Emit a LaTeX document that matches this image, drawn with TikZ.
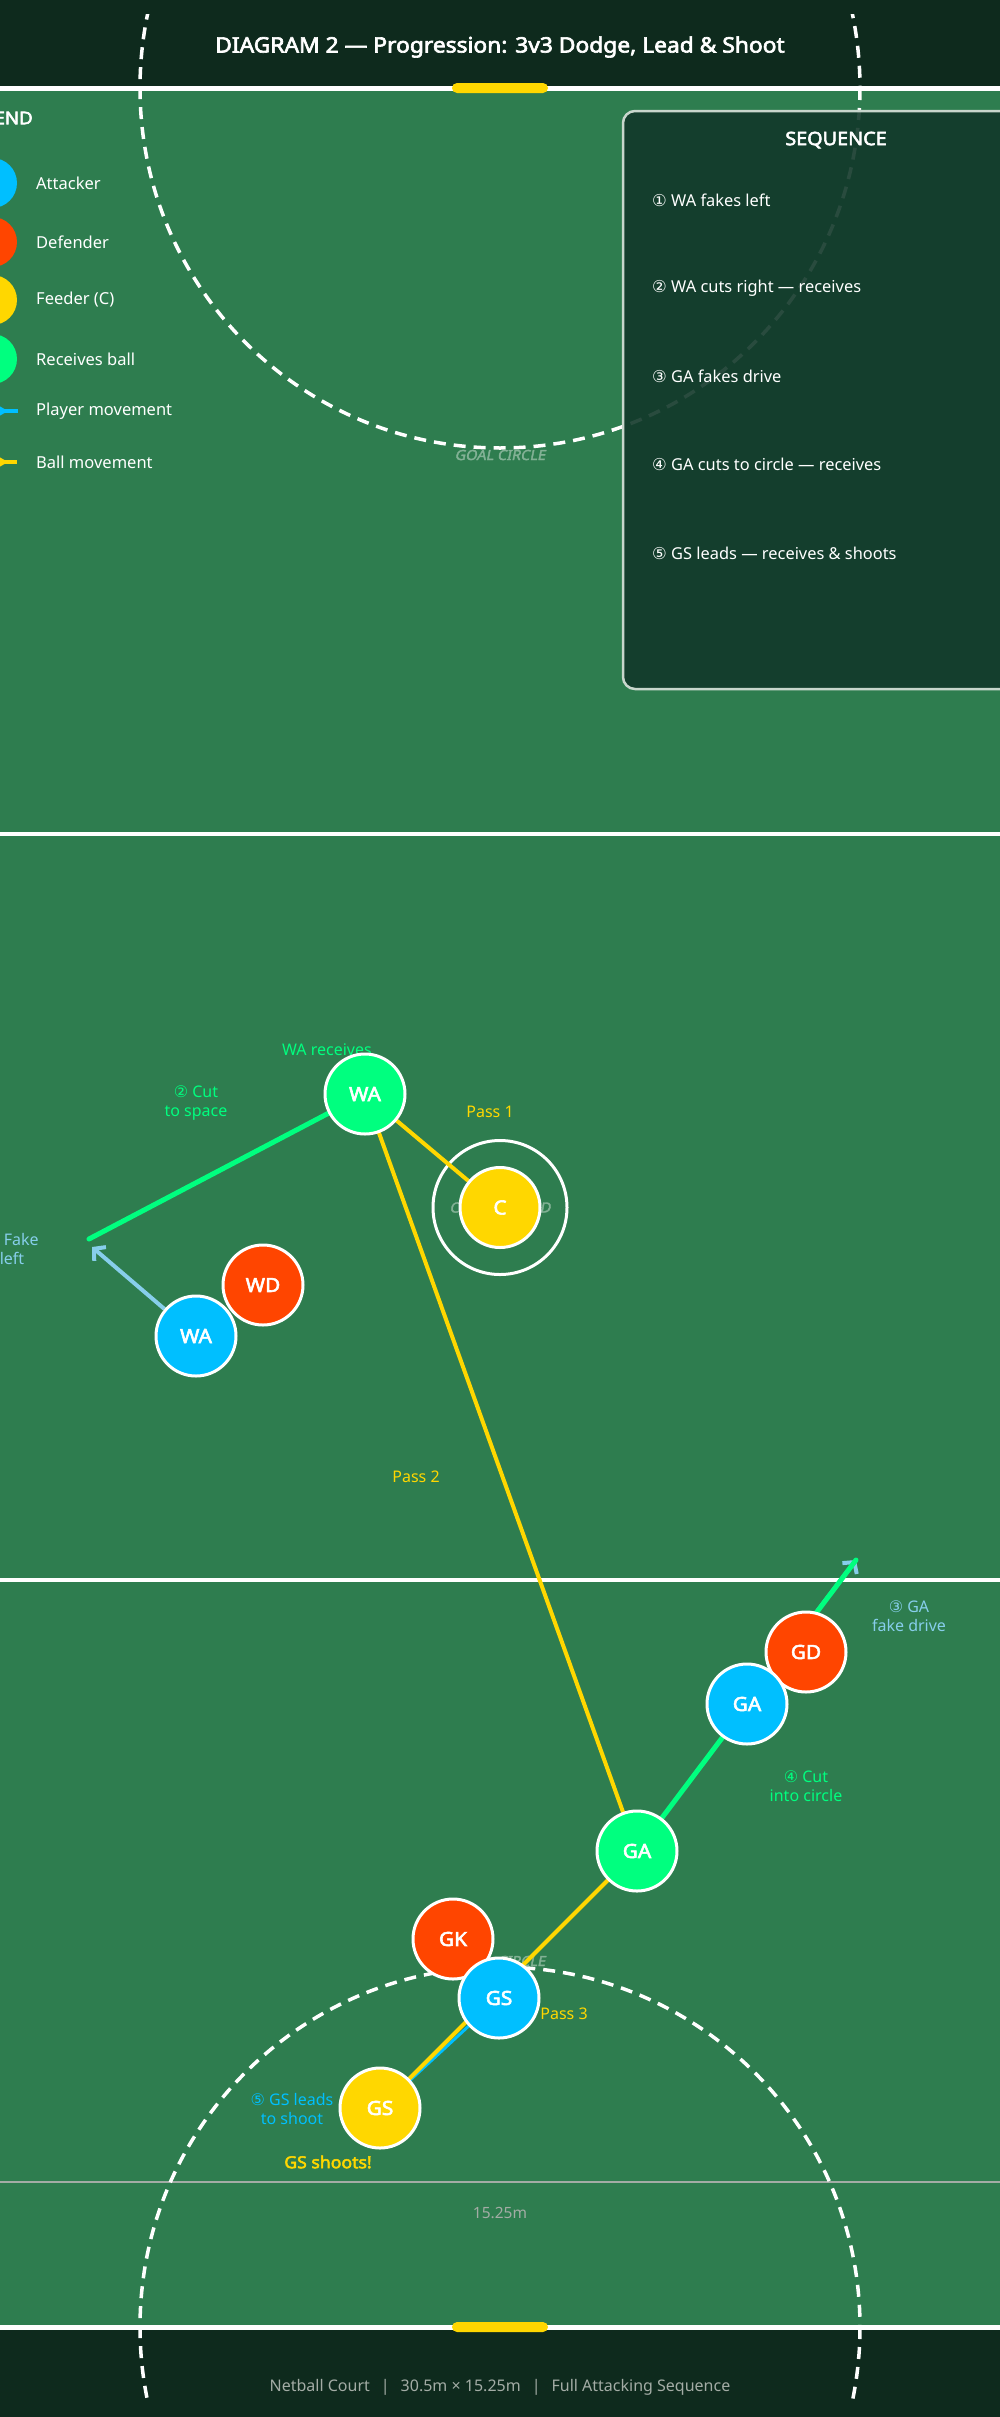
\documentclass[tikz,border=0pt]{standalone}
\usepackage{fontspec}
\setmainfont{Noto Sans}[BoldFont={Noto Sans}, BoldFeatures={FakeBold=3, FakeStretch=1.07}]
\newfontfamily\djv{DejaVu Sans}
\newfontfamily\faintf{Noto Sans}[FakeSlant=0.2, FakeBold=2.5, FakeStretch=1.04]
\usetikzlibrary{arrows.meta}
\pgfdeclarelayer{bg}
\pgfdeclarelayer{lines}
\pgfsetlayers{bg,lines,main}
\definecolor{bgdark}{HTML}{0E2A1D}
\definecolor{court}{HTML}{2E7D4F}
\definecolor{seqfill}{HTML}{12382A}
\definecolor{boxborder}{HTML}{C8D6CC}
\definecolor{att}{HTML}{00BFFF}
\definecolor{defc}{HTML}{FF4500}
\definecolor{feed}{HTML}{FFD700}
\definecolor{rec}{HTML}{00FF7F}
\definecolor{lblue}{HTML}{87CEEB}
\definecolor{grayc}{HTML}{A3ACA5}
\definecolor{faintc}{HTML}{82B195}
\newcommand{\circd}[1]{{\djv #1}}
\begin{document}
\begin{tikzpicture}[x=1pt,y=-1pt,
  player/.style={circle, minimum size=80pt, inner sep=0pt, draw=white, line width=3pt, text=white, font=\bfseries\fontsize{19.5}{22}\selectfont},
  lbl/.style={font=\fontsize{16}{19}\selectfont, align=center, inner sep=0pt},
  legtxt/.style={font=\fontsize{16.5}{19}\selectfont, text=white, anchor=west, inner sep=0pt},
  seqtxt/.style={font=\fontsize{16.4}{19}\selectfont, text=white, anchor=west, inner sep=0pt},
  faint/.style={font=\faintf\fontsize{14}{16}\selectfont, text=faintc, inner sep=0pt},
  passline/.style={draw=feed, line width=4pt},
  cutline/.style={draw=rec, line width=5pt, line cap=round},
  fakeline/.style={draw=lblue, line width=4pt, -{Straight Barb[length=8pt,width=18pt]}},
  leadline/.style={draw=att, line width=3pt},
  courtline/.style={draw=white, line width=4pt}
]
\useasboundingbox (0,0) rectangle (1000,2417);

% ---------- background ----------
\begin{pgfonlayer}{bg}
\fill[bgdark] (0,0) rectangle (1000,2417);
\fill[court] (0,88) rectangle (1000,2327);
\draw[courtline, line width=5pt] (0,88) -- (1000,88);
\draw[courtline] (0,834) -- (1000,834);
\draw[courtline] (0,1580) -- (1000,1580);
\draw[courtline, line width=5pt] (0,2327) -- (1000,2327);
\draw[grayc, line width=2.5pt] (0,2182) -- (1000,2182);
\fill[feed, rounded corners=5pt] (452,83) rectangle (548,93);
\fill[feed, rounded corners=5pt] (452,2322) rectangle (548,2332);
\draw[white, line width=3pt] (500,1207.5) circle[radius=67];
\begin{scope}
\clip (-5,14) rectangle (1005,2402);
\draw[white, line width=3.5pt, dash pattern=on 12pt off 8pt] (500,88) circle[radius=360];
\draw[white, line width=3.5pt, dash pattern=on 12pt off 8pt] (500,2327) circle[radius=360];
\end{scope}
\node[faint] (gctop) at (500,455) {GOAL CIRCLE};
\node[faint] (gcbot) at (500,1961) {GOAL CIRCLE};
\node[faint] (ctext) at (500,1207.5) {CENTRE THIRD};
% sequence box
\fill[seqfill, opacity=0.9, rounded corners=12pt] (623,111) rectangle (1050,689);
\draw[boxborder, line width=2.5pt, rounded corners=12pt] (623,111) rectangle (1050,689);
\end{pgfonlayer}

% ---------- title / footer ----------
\node[font=\bfseries\fontsize{21.3}{25}\selectfont, text=white] (title) at (500,47) {DIAGRAM 2 — Progression: 3v3 Dodge, Lead \& Shoot};
\node[font=\fontsize{16}{19}\selectfont, text=grayc] (footer) at (500,2387) {Netball Court\hspace{11pt}|\hspace{11pt}30.5m × 15.25m\hspace{11pt}|\hspace{11pt}Full Attacking Sequence};
\node[font=\fontsize{15.5}{18}\selectfont, text=grayc] (width) at (500,2213) {15.25m};

% ---------- legend ----------
\node[font=\bfseries\fontsize{17.5}{20}\selectfont, text=white, anchor=east, inner sep=0pt] (legtitle) at (33,118) {LEGEND};
\fill[att] (-8,183) circle[radius=25];
\fill[defc] (-8,242) circle[radius=25];
\fill[feed] (-8,300) circle[radius=25];
\fill[rec] (-8,359) circle[radius=25];
\coordinate (lpA) at (-25,411);
\coordinate (lpB) at (18,411);
\draw[att, line width=4pt] (lpA) -- (lpB);
\fill[att] (8,411) -- (-6,403) -- (-6,419) -- cycle;
\coordinate (lbA) at (-25,462);
\coordinate (lbB) at (17,462);
\draw[feed, line width=4pt] (lbA) -- (lbB);
\fill[feed] (8,462) -- (-6,454) -- (-6,470) -- cycle;
\node[legtxt] (l1) at (36,183) {Attacker};
\node[legtxt] (l2) at (36,242) {Defender};
\node[legtxt] (l3) at (36,300) {Feeder (C)};
\node[legtxt] (l4) at (36,359) {Receives ball};
\node[legtxt] (l5) at (36,411) {Player movement};
\node[legtxt] (l6) at (36,462) {Ball movement};

% ---------- sequence ----------
\node[font=\bfseries\fontsize{18.5}{21}\selectfont, text=white] (seqtitle) at (836,140) {SEQUENCE};
\node[seqtxt] (s1) at (652,200) {\circd{①} WA fakes left};
\node[seqtxt] (s2) at (652,288) {\circd{②} WA cuts right — receives};
\node[seqtxt] (s3) at (652,376) {\circd{③} GA fakes drive};
\node[seqtxt] (s4) at (652,464) {\circd{④} GA cuts to circle — receives};
\node[seqtxt] (s5) at (652,553) {\circd{⑤} GS leads — receives \& shoots};

% ---------- players ----------
\node[player, fill=rec] (wa2) at (365,1094) {WA};
\node[player, fill=feed] (c) at (500,1207.5) {C};
\node[player, fill=defc] (wd) at (263,1285) {WD};
\node[player, fill=att] (wa1) at (196,1336) {WA};
\node[player, fill=defc] (gd) at (806,1652) {GD};
\node[player, fill=att] (ga1) at (747,1704) {GA};
\node[player, fill=rec] (ga2) at (637,1851) {GA};
\node[player, fill=defc] (gk) at (453,1939) {GK};
\node[player, fill=att] (gs1) at (499,1998) {GS};
\node[player, fill=feed] (gs2) at (380,2108) {GS};

\coordinate (fAtip) at (92,1247);
\coordinate (fAend) at (89,1239);
\coordinate (fB) at (856,1560);

% ---------- connectors ----------
\begin{pgfonlayer}{lines}
\node[lbl, text=rec] (warec) at (327,1050) {WA receives};
\draw[fakeline] (wa1) -- (fAtip);
\draw[fakeline] (ga1) -- (fB);
\draw[cutline] (wa2.center) -- (fAend);
\draw[cutline] (fB) -- (ga2.center);
\draw[passline] (wa2.center) -- (c.center);
\draw[passline] (wa2.center) -- (ga2.center);
\draw[leadline] (gs1.center) -- (gs2.center);
\draw[passline] (ga2.center) -- (gs2.center);
\end{pgfonlayer}

% ---------- labels ----------
\node[lbl, text=rec] (cutlbl) at (196,1103) {\circd{②} Cut\\to space};
\node[lbl, text=lblue] (fakelbl) at (12,1249) {\circd{①} Fake\\left};
\node[lbl, text=feed] (p1) at (490,1112) {Pass 1};
\node[lbl, text=feed] (p2) at (416,1477) {Pass 2};
\node[lbl, text=lblue] (gafake) at (909,1616) {\circd{③} GA\\fake drive};
\node[lbl, text=rec] (gacut) at (806,1786) {\circd{④} Cut\\into circle};
\node[lbl, text=feed] (p3) at (564,2014) {Pass 3};
\node[lbl, text=att] (gslead) at (292,2109) {\circd{⑤} GS leads\\to shoot};
\node[lbl, text=feed, font=\bfseries\fontsize{16.5}{19}\selectfont] (shoot) at (328,2162) {GS shoots!};
\end{tikzpicture}
\end{document}
